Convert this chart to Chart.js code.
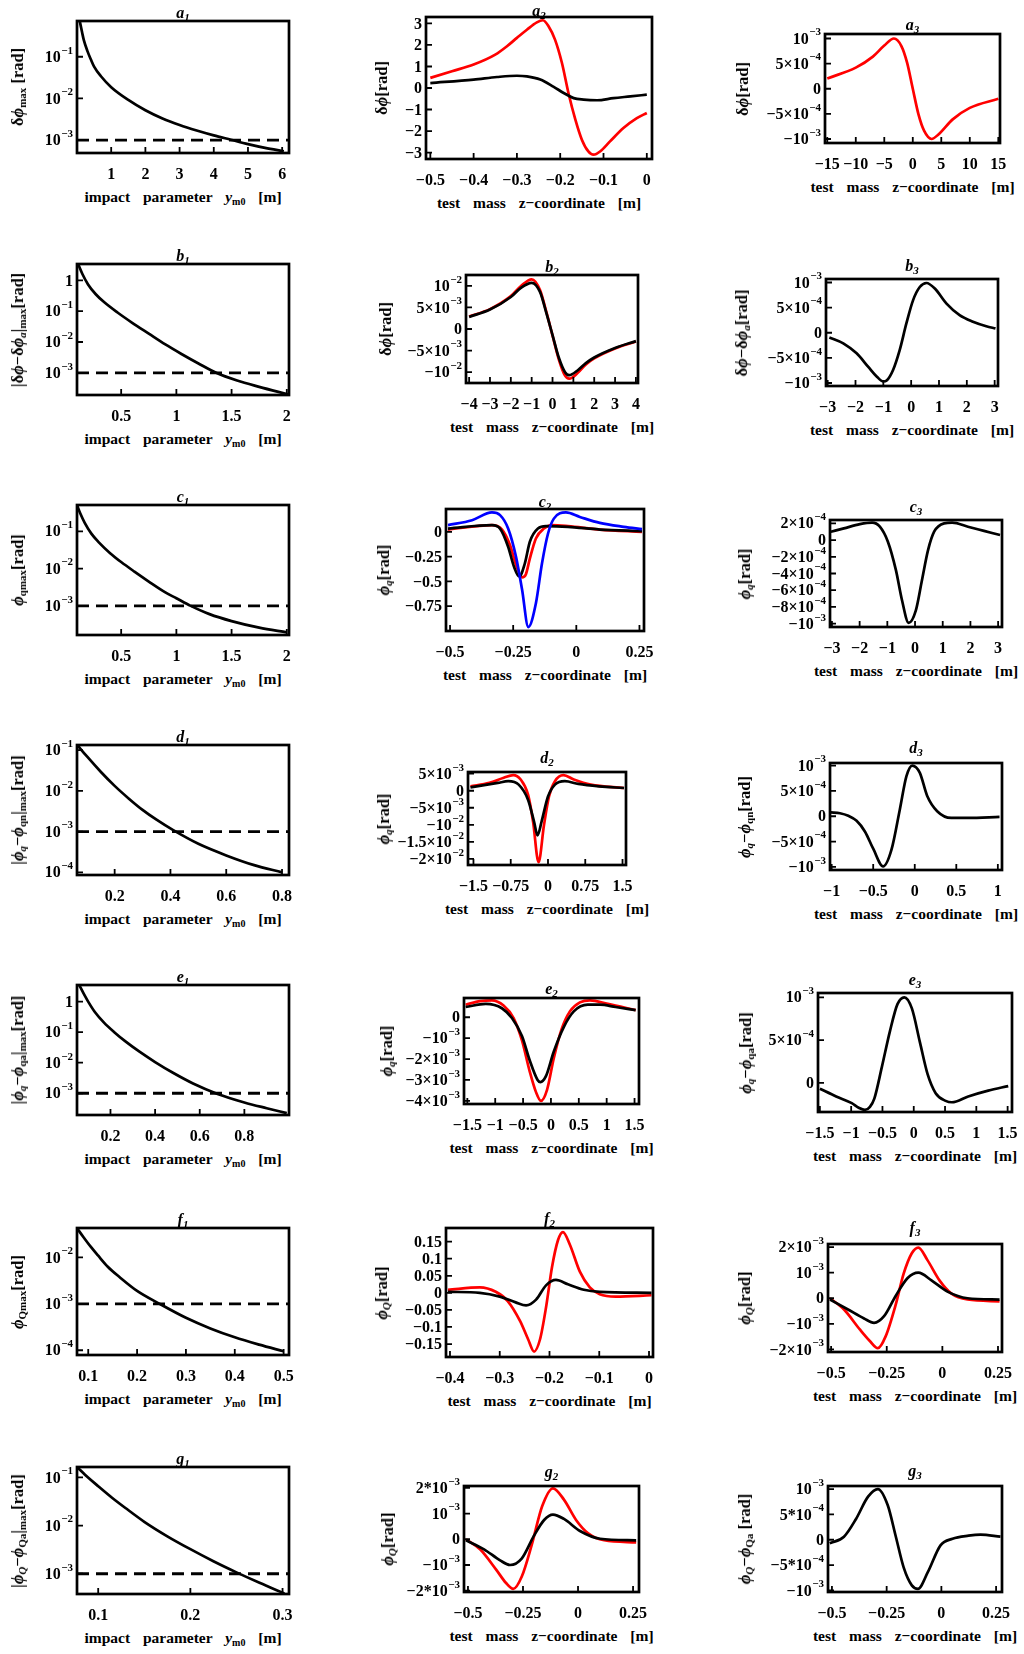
<!DOCTYPE html>
<html>
<head>
<meta charset="utf-8">
<script src="https://cdn.jsdelivr.net/npm/chart.js@4.4.1/dist/chart.umd.min.js"></script>
<style>
  body { margin: 0; background: #fff; width: 1024px; height: 1654px; position: relative; overflow: hidden;
         font-family: "Liberation Serif", "Times New Roman", serif; font-weight: bold; color: #000; }
  canvas { position: absolute; }
  .ttl { position: absolute; font-size: 16px; font-style: italic; transform: translate(-50%, -50%); white-space: nowrap; }
  .ttl sub { font-size: 11px; }
  .xl { position: absolute; font-size: 15.5px; transform: translate(-50%, -50%); white-space: nowrap; word-spacing: 9px; }
  .yl { position: absolute; font-size: 16.5px; transform: translate(-50%, -50%) rotate(-90deg); white-space: nowrap; }
  sub { font-size: 10px; vertical-align: -0.25em; line-height: 0; }
  .yl sub { font-size: 11px; }
</style>
</head>
<body>
<script>
// ---------- data ----------
const LIMIT = 1e-3;   // dashed threshold in column 1

// column 1 : maximum vs impact parameter (log y)
const a1X = [0.08, 0.15, 0.2, 0.3, 0.4, 0.5, 0.7, 1, 1.5, 2, 2.5, 3, 3.5, 4, 4.5, 5, 5.5, 6.05];
const a1Y = [0.72, 0.38, 0.25, 0.14, 0.088, 0.058, 0.034, 0.0186, 0.0092, 0.0052, 0.0033, 0.0023, 0.0017, 0.0013, 0.00102, 0.0008, 0.00065, 0.00054];
const b1X = [0.11, 0.15, 0.2, 0.27, 0.35, 0.47, 0.6, 0.75, 0.9, 1.05, 1.2, 1.36, 1.55, 1.75, 2.01];
const b1Y = [3.4, 1.58, 0.74, 0.355, 0.19, 0.089, 0.042, 0.0186, 0.0083, 0.004, 0.002, 0.001, 0.00056, 0.00035, 0.0002];
const c1X = [0.1, 0.13, 0.17, 0.23, 0.3, 0.4, 0.5, 0.62, 0.75, 0.9, 1.0, 1.13, 1.3, 1.5, 1.75, 2.0];
const c1Y = [0.51, 0.3, 0.17, 0.087, 0.05, 0.026, 0.015, 0.0083, 0.0045, 0.0023, 0.0016, 0.001, 0.0006, 0.00039, 0.00026, 0.000195];
const d1X = [0.066, 0.1, 0.15, 0.2, 0.25, 0.3, 0.35, 0.41, 0.5, 0.6, 0.7, 0.8];
const d1Y = [0.133, 0.0705, 0.0294, 0.0132, 0.0065, 0.0034, 0.00195, 0.00108, 0.0005, 0.00026, 0.00015, 0.0001];
const e1X = [0.06, 0.08, 0.1, 0.13, 0.17, 0.217, 0.27, 0.33, 0.4, 0.48, 0.57, 0.68, 0.8, 0.9, 0.99];
const e1Y = [3.47, 1.82, 1.0, 0.457, 0.209, 0.1, 0.0479, 0.0229, 0.0105, 0.00468, 0.00209, 0.00095, 0.0005, 0.000324, 0.000224];
const f1X = [0.077, 0.09, 0.105, 0.12, 0.14, 0.165, 0.2, 0.246, 0.3, 0.35, 0.4, 0.45, 0.5];
const f1Y = [0.0427, 0.0275, 0.017, 0.011, 0.0063, 0.0037, 0.0019, 0.001, 0.0005, 0.000295, 0.00019, 0.000132, 0.000095];
const g1X = [0.077, 0.089, 0.1, 0.115, 0.13, 0.15, 0.175, 0.2, 0.225, 0.25, 0.275, 0.302];
const g1Y = [0.166, 0.1, 0.066, 0.038, 0.0229, 0.012, 0.006, 0.00324, 0.00182, 0.00107, 0.00065, 0.00039];

// column 2 : phase vs test mass z-coordinate
const a2RedX = [-0.5, -0.45, -0.4, -0.35, -0.323, -0.3, -0.277, -0.254, -0.24, -0.227, -0.212, -0.196, -0.181, -0.165, -0.15, -0.135, -0.123, -0.108, -0.085, -0.054, -0.023, 0];
const a2RedY = [0.47, 0.78, 1.09, 1.55, 1.94, 2.33, 2.71, 3.05, 3.15, 2.87, 2.25, 1.16, -0.23, -1.47, -2.4, -2.95, -3.1, -2.95, -2.48, -1.86, -1.4, -1.16];
const a2BlackX = [-0.5, -0.4, -0.346, -0.3, -0.277, -0.246, -0.215, -0.192, -0.169, -0.146, -0.115, -0.077, -0.038, 0];
const a2BlackY = [0.23, 0.39, 0.51, 0.57, 0.54, 0.39, 0.05, -0.23, -0.47, -0.54, -0.57, -0.47, -0.39, -0.31];
const b2X = [-4, -3, -2, -1.5, -1.0, -0.6, -0.3, 0, 0.3, 0.6, 0.8, 1.2, 1.6, 2, 3, 4];
const b2Red = [2.9e-3, 4.6e-3, 7.6e-3, 1.0e-2, 1.15e-2, 9.0e-3, 4.0e-3, -1.5e-3, -7.0e-3, -1.08e-2, -1.15e-2, -1.02e-2, -8.2e-3, -6.8e-3, -4.5e-3, -2.9e-3];
const b2Black = [2.8e-3, 4.5e-3, 7.4e-3, 9.6e-3, 1.07e-2, 8.6e-3, 3.8e-3, -1.4e-3, -6.6e-3, -1.0e-2, -1.07e-2, -9.6e-3, -7.9e-3, -6.6e-3, -4.4e-3, -2.8e-3];
const c2BlueX = [-0.508, -0.413, -0.334, -0.302, -0.27, -0.239, -0.215, -0.19, -0.16, -0.136, -0.112, -0.089, -0.041, 0.014, 0.093, 0.188, 0.26];
const c2BlueY = [0.067, 0.117, 0.195, 0.168, 0.033, -0.25, -0.58, -0.96, -0.72, -0.32, -0.017, 0.133, 0.195, 0.15, 0.09, 0.05, 0.027];
const c2BlackX = [-0.508, -0.334, -0.302, -0.27, -0.247, -0.226, -0.204, -0.184, -0.152, -0.12, -0.033, 0.093, 0.26];
const c2BlackY = [0.033, 0.067, 0.033, -0.15, -0.35, -0.45, -0.32, -0.1, 0.033, 0.057, 0.05, 0.023, 0.007];
const c2RedX = [-0.508, -0.334, -0.294, -0.263, -0.239, -0.215, -0.2, -0.184, -0.16, -0.128, -0.097, -0.033, 0.093, 0.26];
const c2RedY = [0.023, 0.067, 0.023, -0.13, -0.33, -0.46, -0.43, -0.27, -0.067, 0.033, 0.067, 0.057, 0.023, 0.0];
const d2RedX = [-1.56, -1.18, -0.89, -0.70, -0.55, -0.40, -0.30, -0.19, -0.08, 0.02, 0.14, 0.31, 0.52, 0.86, 1.53];
const d2RedY = [1.3e-3, 2.3e-3, 3.8e-3, 4.6e-3, 3.3e-3, -1.2e-3, -9.1e-3, -2.1e-2, -1.0e-2, -1.7e-3, 2.8e-3, 4.6e-3, 3.3e-3, 1.8e-3, 0.8e-3];
const d2BlackX = [-1.56, -1.01, -0.80, -0.59, -0.40, -0.28, -0.21, -0.13, 0.0, 0.14, 0.34, 0.61, 1.03, 1.53];
const d2BlackY = [1.0e-3, 2.3e-3, 2.8e-3, 1.8e-3, -2.7e-3, -9.1e-3, -1.31e-2, -9.1e-3, -1.7e-3, 1.8e-3, 2.8e-3, 2.0e-3, 1.3e-3, 0.8e-3];
const e2RedX = [-1.53, -1.27, -1.06, -0.85, -0.67, -0.52, -0.38, -0.27, -0.18, -0.07, 0.05, 0.19, 0.34, 0.52, 0.70, 1.02, 1.52];
const e2RedY = [0.6e-3, 0.77e-3, 0.81e-3, 0.56e-3, -0.04e-3, -1.11e-3, -2.6e-3, -3.57e-3, -4.0e-3, -3.47e-3, -1.97e-3, -0.58e-3, 0.28e-3, 0.71e-3, 0.81e-3, 0.64e-3, 0.34e-3];
const e2BlackX = [-1.53, -1.17, -0.88, -0.70, -0.52, -0.38, -0.24, -0.19, -0.09, 0.05, 0.23, 0.41, 0.66, 0.88, 1.16, 1.52];
const e2BlackY = [0.49e-3, 0.64e-3, 0.43e-3, -0.04e-3, -0.9e-3, -2.07e-3, -3.0e-3, -3.1e-3, -2.82e-3, -1.65e-3, -0.47e-3, 0.28e-3, 0.6e-3, 0.6e-3, 0.49e-3, 0.34e-3];
const f2RedX = [-0.404, -0.34, -0.308, -0.284, -0.259, -0.243, -0.231, -0.219, -0.207, -0.195, -0.183, -0.173, -0.159, -0.139, -0.119, -0.099, -0.067, 0.005];
const f2RedY = [0.009, 0.016, 0.003, -0.024, -0.083, -0.136, -0.172, -0.136, -0.043, 0.075, 0.154, 0.178, 0.141, 0.062, 0.016, -0.004, -0.011, -0.007];
const f2BlackX = [-0.404, -0.34, -0.3, -0.268, -0.247, -0.227, -0.207, -0.187, -0.163, -0.131, -0.099, 0.005];
const f2BlackY = [0.003, 0.0, -0.011, -0.028, -0.037, -0.02, 0.022, 0.038, 0.025, 0.009, 0.003, 0.0];
const g2RedX = [-0.509, -0.445, -0.372, -0.327, -0.294, -0.255, -0.21, -0.163, -0.114, -0.064, -0.009, 0.046, 0.119, 0.264];
const g2RedY = [0, -0.39e-3, -1.18e-3, -1.7e-3, -1.93e-3, -1.44e-3, -0.21e-3, 1.28e-3, 1.98e-3, 1.54e-3, 0.75e-3, 0.23e-3, -0.04e-3, -0.12e-3];
const g2BlackX = [-0.509, -0.427, -0.354, -0.309, -0.255, -0.2, -0.154, -0.114, -0.064, 0.009, 0.1, 0.264];
const g2BlackY = [-0.04e-3, -0.39e-3, -0.82e-3, -1.0e-3, -0.74e-3, 0.14e-3, 0.75e-3, 0.96e-3, 0.79e-3, 0.32e-3, 0.02e-3, -0.04e-3];

// column 3 : differences vs test mass z-coordinate
const a3X = [-15, -10, -7, -5, -3.3, -2, -1, 0, 1, 2, 3.3, 4.5, 7, 10, 15];
const a3Y = [2.05e-4, 4.2e-4, 6.4e-4, 8.6e-4, 1.0e-3, 8.5e-4, 5.2e-4, 0, -5.1e-4, -8.4e-4, -1.0e-3, -9.1e-4, -6.1e-4, -3.8e-4, -2.0e-4];
const b3X = [-2.94, -2.44, -1.96, -1.54, -1.24, -1.0, -0.88, -0.65, -0.41, -0.17, 0.07, 0.31, 0.55, 0.85, 1.27, 1.74, 2.22, 2.7, 3.03];
const b3Y = [-0.93e-4, -2.1e-4, -4.1e-4, -6.8e-4, -8.7e-4, -9.7e-4, -9.5e-4, -7.4e-4, -3.4e-4, 1.9e-4, 6.5e-4, 9.1e-4, 9.9e-4, 8.8e-4, 5.8e-4, 3.5e-4, 2.2e-4, 1.3e-4, 0.86e-4];
const c3X = [-3.04, -2.57, -1.99, -1.55, -1.27, -0.98, -0.69, -0.47, -0.23, 0.03, 0.25, 0.47, 0.69, 1.05, 1.34, 1.91, 2.49, 3.07];
const c3Y = [1.0e-4, 1.4e-4, 1.9e-4, 2.08e-4, 1.6e-4, -0.2e-4, -3.6e-4, -7.2e-4, -9.9e-4, -8.4e-4, -4.8e-4, -1.2e-4, 1.0e-4, 2.0e-4, 2.08e-4, 1.6e-4, 1.1e-4, 0.6e-4];
const d3X = [-1.01, -0.9, -0.8, -0.7, -0.6, -0.5, -0.38, -0.28, -0.18, -0.10, -0.03, 0.06, 0.15, 0.27, 0.44, 0.64, 1.02];
const d3Y = [0.75e-4, 0.6e-4, 0.1e-4, -0.9e-4, -3.0e-4, -6.4e-4, -9.9e-4, -6.6e-4, 1.3e-4, 7.9e-4, 1.0e-3, 8.6e-4, 4.0e-4, 1.0e-4, -0.33e-4, -0.33e-4, -0.13e-4];
const e3X = [-1.5, -1.24, -0.99, -0.88, -0.78, -0.7, -0.63, -0.51, -0.38, -0.26, -0.15, -0.03, 0.10, 0.22, 0.35, 0.51, 0.61, 0.87, 1.19, 1.51];
const e3Y = [-0.68e-4, -1.58e-4, -2.37e-4, -2.9e-4, -3.16e-4, -2.8e-4, -1.84e-4, 1.84e-4, 6.05e-4, 9.2e-4, 1.0e-3, 8.7e-4, 4.7e-4, 1.05e-4, -1.2e-4, -2.1e-4, -2.26e-4, -1.58e-4, -0.9e-4, -0.37e-4];
const f3RedX = [-0.505, -0.442, -0.37, -0.326, -0.29, -0.255, -0.21, -0.174, -0.138, -0.108, -0.067, -0.013, 0.041, 0.113, 0.257];
const f3RedY = [0, -0.44e-3, -1.23e-3, -1.67e-3, -1.95e-3, -1.49e-3, -0.26e-3, 0.96e-3, 1.75e-3, 1.98e-3, 1.49e-3, 0.7e-3, 0.18e-3, -0.05e-3, -0.12e-3];
const f3BlackX = [-0.505, -0.424, -0.352, -0.307, -0.262, -0.21, -0.156, -0.108, -0.049, 0.023, 0.113, 0.257];
const f3BlackY = [-0.05e-3, -0.44e-3, -0.79e-3, -0.96e-3, -0.7e-3, 0.09e-3, 0.79e-3, 1.0e-3, 0.7e-3, 0.26e-3, 0, -0.05e-3];
const g3X = [-0.51, -0.445, -0.39, -0.335, -0.29, -0.245, -0.208, -0.172, -0.135, -0.107, -0.062, -0.004, 0.051, 0.124, 0.179, 0.27];
const g3Y = [-0.7e-4, 0.6e-4, 4.1e-4, 8.5e-4, 1.0e-3, 6.8e-4, 0.6e-4, -5.5e-4, -9.0e-4, -9.7e-4, -6.4e-4, -1.1e-4, 0.2e-4, 0.8e-4, 1.0e-4, 0.6e-4];

// ---------- tick values and labels ----------
const logTicks = [1e-4, 1e-3, 1e-2, 1e-1, 1];
const logLabels = ['10⁻⁴', '10⁻³', '10⁻²', '10⁻¹', '1'];
const b2YTicks = [-1e-2, -5e-3, 0, 5e-3, 1e-2];
const b2YLabels = ['−10⁻²', '−5×10⁻³', '0', '5×10⁻³', '10⁻²'];
const d2YTicks = [-2e-2, -1.5e-2, -1e-2, -5e-3, 0, 5e-3];
const d2YLabels = ['−2×10⁻²', '−1.5×10⁻²', '−10⁻²', '−5×10⁻³', '0', '5×10⁻³'];
const e2YTicks = [-4e-3, -3e-3, -2e-3, -1e-3, 0];
const e2YLabels = ['−4×10⁻³', '−3×10⁻³', '−2×10⁻³', '−10⁻³', '0'];
const g2YTicks = [-2e-3, -1e-3, 0, 1e-3, 2e-3];
const g2YLabels = ['−2*10⁻³', '−10⁻³', '0', '10⁻³', '2*10⁻³'];
const m4Ticks = [-1e-3, -5e-4, 0, 5e-4, 1e-3];
const m4Labels = ['−10⁻³', '−5×10⁻⁴', '0', '5×10⁻⁴', '10⁻³'];
const c3YTicks = [-1e-3, -8e-4, -6e-4, -4e-4, -2e-4, 0, 2e-4];
const c3YLabels = ['−10⁻³', '−8×10⁻⁴', '−6×10⁻⁴', '−4×10⁻⁴', '−2×10⁻⁴', '0', '2×10⁻⁴'];
const e3YTicks = [0, 5e-4, 1e-3];
const e3YLabels = ['0', '5×10⁻⁴', '10⁻³'];
const f3YTicks = [-2e-3, -1e-3, 0, 1e-3, 2e-3];
const f3YLabels = ['−2×10⁻³', '−10⁻³', '0', '10⁻³', '2×10⁻³'];
const g3YLabels = ['−10⁻³', '−5*10⁻⁴', '0', '5*10⁻⁴', '10⁻³'];

// ---------- drawing ----------
const FAMILY = '"Liberation Serif", "Times New Roman", serif';
Chart.defaults.font.family = FAMILY;
Chart.defaults.font.weight = 'bold';
Chart.defaults.font.size = 16;
Chart.defaults.color = '#000';

const YW = 76, PT = 12, PR = 26, XH = 28;
const RED = 'rgb(255,0,0)', BLACK = '#000', BLUE = 'rgb(0,0,255)';

const IMPACT = 'impact parameter <i>y</i><sub>m0</sub> [m]';
const ZCOORD = 'test mass z−coordinate [m]';
const PHI = '<i>ϕ</i>';

// superscript characters -> plain characters, for drawing exponents raised
const SUP = { '⁻': '−', '⁰': '0', '¹': '1', '²': '2', '³': '3', '⁴': '4' };
const SUP_RE = /[⁻⁰¹²³⁴]/;

// frame with inward ticks and y labels with real exponents, like the Mathematica frame
function framePlugin(yTicks, yLabels) {
  return {
    id: 'frame',
    afterDatasetsDraw(chart) {
      const { ctx, chartArea: a, scales: { x, y } } = chart;
      ctx.save();
      ctx.strokeStyle = '#000';
      ctx.lineWidth = 1.8;
      ctx.beginPath();
      x.ticks.forEach(t => {
        const p = x.getPixelForValue(t.value);
        ctx.moveTo(p, a.bottom); ctx.lineTo(p, a.bottom - 6);
      });
      y.ticks.forEach(t => {
        const p = y.getPixelForValue(t.value);
        ctx.moveTo(a.left, p); ctx.lineTo(a.left + 6, p);
      });
      ctx.stroke();
      ctx.lineWidth = 2.7;
      ctx.strokeRect(a.left, a.top, a.right - a.left, a.bottom - a.top);

      // y tick labels
      ctx.fillStyle = '#000';
      ctx.textAlign = 'right';
      ctx.textBaseline = 'middle';
      const right = a.left - 4;
      y.ticks.forEach(t => {
        const lab = yLabels[yTicks.indexOf(t.value)];
        if (lab === undefined) return;
        const py = y.getPixelForValue(t.value);
        const k = lab.search(SUP_RE);
        const base = k < 0 ? lab : lab.slice(0, k);
        const sup = k < 0 ? '' : Array.from(lab.slice(k)).map(c => SUP[c]).join('');
        let ws = 0;
        if (sup) {
          ctx.font = 'bold 11px ' + FAMILY;
          ws = ctx.measureText(sup).width + 0.5;
          ctx.fillText(sup, right, py - 6);
        }
        ctx.font = 'bold 16px ' + FAMILY;
        ctx.fillText(base, right - ws, py + 1);
      });
      ctx.restore();
    }
  };
}

function line(xs, ys, color, dash) {
  return {
    data: xs.map((x, i) => ({ x: x, y: ys[i] })),
    borderColor: color,
    borderWidth: dash ? 2.8 : 2.7,
    borderDash: dash || [],
    pointRadius: 0,
    cubicInterpolationMode: 'monotone',
    fill: false
  };
}

const fmt = v => String(v).replace('-', '−');

function col1(id, box, xr, yr, xTicks, xs, ys, ylab) {
  return {
    id, box, xr, yr, log: true, xTicks, yTicks: logTicks, yLabels: logLabels,
    series: [line(xs, ys, BLACK), line(xr, [LIMIT, LIMIT], BLACK, [12, 7])],
    ylab, ylabX: 18, xlab: IMPACT, dy: 8
  };
}

const panels = [
  col1('a1', [77, 21, 212, 132], [0, 6.2], [4.9e-4, 0.72], [1, 2, 3, 4, 5, 6], a1X, a1Y,
       'δ' + PHI + '<sub>max</sub> [rad]'),
  { id: 'a2', box: [426, 17, 226, 142], xr: [-0.51, 0.012], yr: [-3.3, 3.3],
    xTicks: [-0.5, -0.4, -0.3, -0.2, -0.1, 0], yTicks: [-3, -2, -1, 0, 1, 2, 3],
    series: [line(a2BlackX, a2BlackY, BLACK), line(a2RedX, a2RedY, RED)],
    ylab: 'δ' + PHI + '[rad]', ylabX: 382, xlab: ZCOORD, dy: 6 },
  { id: 'a3', box: [825, 34, 175, 109], xr: [-15.4, 15.3], yr: [-1.08e-3, 1.09e-3],
    xTicks: [-15, -10, -5, 0, 5, 10, 15], yTicks: m4Ticks, yLabels: m4Labels,
    series: [line(a3X, a3Y, RED)],
    ylab: 'δ' + PHI + '[rad]', ylabX: 743, xlab: ZCOORD, dy: 9 },

  col1('b1', [77, 264, 212, 131], [0.1, 2.02], [1.9e-4, 3.4], [0.5, 1, 1.5, 2], b1X, b1Y,
       '|δ' + PHI + '−δ' + PHI + '<sub><i>a</i></sub>|<sub>max</sub>[rad]'),
  { id: 'b2', box: [466, 275, 172, 108], xr: [-4.15, 4.1], yr: [-1.25e-2, 1.25e-2],
    xTicks: [-4, -3, -2, -1, 0, 1, 2, 3, 4], yTicks: b2YTicks, yLabels: b2YLabels,
    series: [line(b2X, b2Black, BLACK), line(b2X, b2Red, RED)],
    ylab: 'δ' + PHI + '[rad]', ylabX: 386, xlab: ZCOORD, dy: 8 },
  { id: 'b3', box: [826, 279, 172, 107], xr: [-3.06, 3.12], yr: [-1.06e-3, 1.07e-3],
    xTicks: [-3, -2, -1, 0, 1, 2, 3], yTicks: m4Ticks, yLabels: m4Labels,
    series: [line(b3X, b3Y, BLACK)],
    ylab: 'δ' + PHI + '−δ' + PHI + '<sub><i>a</i></sub>[rad]', ylabX: 742, xlab: ZCOORD, dy: 13 },

  col1('c1', [77, 505, 212, 130], [0.1, 2.02], [1.65e-4, 0.51], [0.5, 1, 1.5, 2], c1X, c1Y,
       PHI + '<sub>qmax</sub>[rad]'),
  { id: 'c2', box: [446, 509, 198, 122], xr: [-0.516, 0.268], yr: [-1.0, 0.23],
    xTicks: [-0.5, -0.25, 0, 0.25], yTicks: [-0.75, -0.5, -0.25, 0],
    series: [line(c2BlueX, c2BlueY, BLUE), line(c2BlackX, c2BlackY, BLACK), line(c2RedX, c2RedY, RED)],
    ylab: PHI + '<sub><i>q</i></sub>[rad]', ylabX: 384, xlab: ZCOORD, dy: 7 },
  { id: 'c3', box: [830, 520, 172, 107], xr: [-3.07, 3.14], yr: [-1.04e-3, 2.4e-4],
    xTicks: [-3, -2, -1, 0, 1, 2, 3], yTicks: c3YTicks, yLabels: c3YLabels,
    series: [line(c3X, c3Y, BLACK)],
    ylab: PHI + '<sub><i>q</i></sub>[rad]', ylabX: 745, xlab: ZCOORD, dy: 13 },

  col1('d1', [77, 745, 212, 130], [0.065, 0.825], [8.6e-5, 0.133], [0.2, 0.4, 0.6, 0.8], d1X, d1Y,
       '|' + PHI + '<sub><i>q</i></sub>−' + PHI + '<sub>qn</sub>|<sub>max</sub>[rad]'),
  { id: 'd2', box: [468, 772, 158, 93], xr: [-1.61, 1.57], yr: [-2.18e-2, 5.5e-3],
    xTicks: [-1.5, -0.75, 0, 0.75, 1.5], yTicks: d2YTicks, yLabels: d2YLabels,
    series: [line(d2BlackX, d2BlackY, BLACK), line(d2RedX, d2RedY, RED)],
    ylab: PHI + '<sub><i>q</i></sub>[rad]', ylabX: 384, xlab: ZCOORD, dy: 14 },
  { id: 'd3', box: [830, 763, 172, 107], xr: [-1.02, 1.05], yr: [-1.06e-3, 1.05e-3],
    xTicks: [-1, -0.5, 0, 0.5, 1], yTicks: m4Ticks, yLabels: m4Labels,
    series: [line(d3X, d3Y, BLACK)],
    ylab: PHI + '<sub><i>q</i></sub>−' + PHI + '<sub>qn</sub>[rad]', ylabX: 745, xlab: ZCOORD, dy: 15 },

  col1('e1', [77, 985, 212, 130], [0.05, 1.0], [1.94e-4, 3.5], [0.2, 0.4, 0.6, 0.8], e1X, e1Y,
       '|' + PHI + '<sub><i>q</i></sub>−' + PHI + '<sub>qa</sub>|<sub>max</sub>[rad]'),
  { id: 'e2', box: [464, 998, 175, 106], xr: [-1.56, 1.58], yr: [-4.15e-3, 0.92e-3],
    xTicks: [-1.5, -1, -0.5, 0, 0.5, 1, 1.5], yTicks: e2YTicks, yLabels: e2YLabels,
    series: [line(e2BlackX, e2BlackY, BLACK), line(e2RedX, e2RedY, RED)],
    ylab: PHI + '<sub><i>q</i></sub>[rad]', ylabX: 387, xlab: ZCOORD, dy: 9 },
  { id: 'e3', box: [818, 993, 194, 119], xr: [-1.53, 1.57], yr: [-3.4e-4, 1.05e-3],
    xTicks: [-1.5, -1, -0.5, 0, 0.5, 1, 1.5], yTicks: e3YTicks, yLabels: e3YLabels,
    series: [line(e3X, e3Y, BLACK)],
    ylab: PHI + '<sub><i>q</i></sub>−' + PHI + '<sub>qa</sub>[rad]', ylabX: 746, xlab: ZCOORD, dy: 13 },

  col1('f1', [77, 1228, 212, 127], [0.077, 0.511], [7.9e-5, 0.043], [0.1, 0.2, 0.3, 0.4, 0.5], f1X, f1Y,
       PHI + '<sub>Qmax</sub>[rad]'),
  { id: 'f2', box: [446, 1228, 207, 129], xr: [-0.408, 0.008], yr: [-0.188, 0.19],
    xTicks: [-0.4, -0.3, -0.2, -0.1, 0], yTicks: [-0.15, -0.1, -0.05, 0, 0.05, 0.1, 0.15],
    series: [line(f2BlackX, f2BlackY, BLACK), line(f2RedX, f2RedY, RED)],
    ylab: PHI + '<sub><i>Q</i></sub>[rad]', ylabX: 382, xlab: ZCOORD, dy: 9 },
  { id: 'f3', box: [828, 1244, 174, 108], xr: [-0.514, 0.268], yr: [-2.1e-3, 2.12e-3],
    xTicks: [-0.5, -0.25, 0, 0.25], yTicks: f3YTicks, yLabels: f3YLabels,
    series: [line(f3BlackX, f3BlackY, BLACK), line(f3RedX, f3RedY, RED)],
    ylab: PHI + '<sub><i>Q</i></sub>[rad]', ylabX: 745, xlab: ZCOORD, dy: 16 },

  col1('g1', [77, 1467, 212, 127], [0.077, 0.307], [3.8e-4, 0.165], [0.1, 0.2, 0.3], g1X, g1Y,
       '|' + PHI + '<sub><i>Q</i></sub>−' + PHI + '<sub>Qa</sub>|<sub>max</sub>[rad]'),
  { id: 'g2', box: [464, 1486, 175, 106], xr: [-0.518, 0.277], yr: [-2.05e-3, 2.07e-3],
    xTicks: [-0.5, -0.25, 0, 0.25], yTicks: g2YTicks, yLabels: g2YLabels,
    series: [line(g2BlackX, g2BlackY, BLACK), line(g2RedX, g2RedY, RED)],
    ylab: PHI + '<sub><i>Q</i></sub>[rad]', ylabX: 388, xlab: ZCOORD, dy: 14 },
  { id: 'g3', box: [828, 1486, 174, 106], xr: [-0.518, 0.277], yr: [-1.03e-3, 1.06e-3],
    xTicks: [-0.5, -0.25, 0, 0.25], yTicks: m4Ticks, yLabels: g3YLabels,
    series: [line(g3X, g3Y, BLACK)],
    ylab: PHI + '<sub><i>Q</i></sub>−' + PHI + '<sub>Qa</sub> [rad]', ylabX: 745, xlab: ZCOORD, dy: 15 }
];

function addText(cls, html, x, y) {
  const d = document.createElement('div');
  d.className = cls;
  d.innerHTML = html;
  d.style.left = x + 'px';
  d.style.top = y + 'px';
  document.body.appendChild(d);
}

panels.forEach(p => {
  const [L, T, W, H] = p.box;
  const cv = document.createElement('canvas');
  cv.width = YW + W + PR;
  cv.height = PT + H + XH;
  cv.style.left = (L - YW) + 'px';
  cv.style.top = (T - PT) + 'px';
  document.body.appendChild(cv);

  const xLabels = p.xTicks.map(fmt);
  const yLabels = p.yLabels || p.yTicks.map(fmt);

  new Chart(cv, {
    type: 'line',
    data: { datasets: p.series },
    options: {
      responsive: false,
      animation: false,
      layout: { padding: { top: PT, right: PR, left: 0, bottom: 0 } },
      plugins: { legend: { display: false }, tooltip: { enabled: false } },
      scales: {
        x: {
          type: 'linear', min: p.xr[0], max: p.xr[1], bounds: 'data',
          grid: { display: false }, border: { display: false },
          afterBuildTicks: s => { s.ticks = p.xTicks.map(v => ({ value: v })); },
          afterFit: s => { s.height = XH; },
          ticks: { autoSkip: false, maxRotation: 0, padding: 4, callback: (v, i) => xLabels[i] }
        },
        y: {
          type: p.log ? 'logarithmic' : 'linear', min: p.yr[0], max: p.yr[1], bounds: 'data',
          grid: { display: false }, border: { display: false },
          afterBuildTicks: s => { s.ticks = p.yTicks.filter(v => v >= p.yr[0] && v <= p.yr[1]).map(v => ({ value: v })); },
          afterFit: s => { s.width = YW; },
          ticks: { display: false, autoSkip: false }
        }
      }
    },
    plugins: [framePlugin(p.yTicks, yLabels)]
  });

  const n = p.id.charAt(1);
  addText('ttl', '<i>' + p.id.charAt(0) + '</i><sub>' + n + '</sub>', L + W / 2, T - p.dy);
  addText('yl', p.ylab, p.ylabX, T + H / 2);
  addText('xl', p.xlab, L + W / 2, T + H + 44);
});
</script>
</body>
</html>
